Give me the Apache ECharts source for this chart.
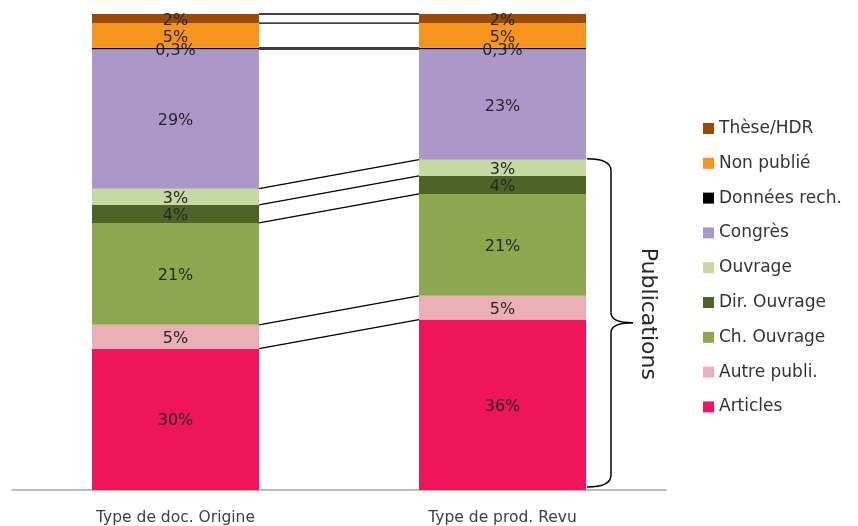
<!DOCTYPE html>
<html>
<head>
<meta charset="utf-8">
<script src="https://cdn.jsdelivr.net/npm/echarts@6/dist/echarts.min.js"></script>
<style>html,body{margin:0;padding:0;background:#fff;}#c{width:858px;height:526px;}</style>
</head>
<body>
<div id="c"></div>
<script>
const categories = ['Type de doc. Origine', 'Type de prod. Revu'];
const seriesNames = ['Articles', 'Autre publi.', 'Ch. Ouvrage', 'Dir. Ouvrage', 'Ouvrage', 'Congrès', 'Données rech.', 'Non publié', 'Thèse/HDR'];
const articles = [29.7, 35.8];
const autrePubli = [5.0, 5.0];
const chOuvrage = [21.4, 21.4];
const dirOuvrage = [3.8, 3.8];
const ouvrage = [3.4, 3.4];
const congres = [29.3, 23.2];
const donnees = [0.3, 0.3];
const nonPublie = [5.2, 5.2];
const these = [1.9, 1.9];
const seriesValues = [articles, autrePubli, chOuvrage, dirOuvrage, ouvrage, congres, donnees, nonPublie, these];
const colors = ['#F0145A', '#EBAFB6', '#8BA84E', '#4F6228', '#C5D9A0', '#AC98C8', '#000000', '#F7941D', '#9C4A0A'];
const braceLabel = 'Publications';

const FONT = 'DejaVu Sans';
const barW = 167;

function fmt(v) {
  if (v < 1) return String(v).replace('.', ',') + '%';
  return Math.round(v) + '%';
}

// cumulative boundaries
const bounds = [];
const cum = [0, 0];
seriesValues.forEach(arr => {
  cum[0] += arr[0]; cum[1] += arr[1];
  bounds.push([0, +cum[0].toFixed(3), +cum[1].toFixed(3)]);
});
const total = Math.max(cum[0], cum[1]);

const chart = echarts.init(document.getElementById('c'));
const series = seriesNames.map((name, i) => ({
  name: name,
  type: 'bar',
  stack: 'total',
  barWidth: barW,
  itemStyle: { color: colors[i] },
  label: {
    show: true,
    position: 'inside',
    offset: [0, 2],
    fontFamily: FONT,
    fontSize: 16,
    color: '#262626',
    formatter: p => fmt(p.value)
  },
  emphasis: { disabled: true },
  data: seriesValues[i]
}));
series.push({
  type: 'custom',
  name: 'lines',
  silent: true,
  encode: { x: 0, y: [1, 2] },
  renderItem: function (params, api) {
    const a = api.coord([0, api.value(1)]);
    const b = api.coord([1, api.value(2)]);
    return {
      type: 'line',
      shape: { x1: a[0] + barW / 2, y1: a[1], x2: b[0] - barW / 2, y2: b[1] },
      style: { stroke: '#000', lineWidth: 1.3 }
    };
  },
  data: bounds,
  z: 5
});

chart.setOption({
  animation: false,
  grid: { left: 12, right: 192, top: 14, bottom: 35 },
  legend: {
    orient: 'vertical',
    left: 698,
    top: 115,
    itemWidth: 11,
    itemHeight: 11,
    itemGap: 17.8,
    icon: 'rect',
    selectedMode: false,
    data: seriesNames.slice().reverse(),
    textStyle: { fontFamily: FONT, fontSize: 17, color: '#333333', lineHeight: 16 }
  },
  xAxis: {
    type: 'category',
    data: categories,
    axisLine: { lineStyle: { color: '#A6A6A6', width: 1.5 } },
    axisTick: { show: false },
    axisLabel: { fontFamily: FONT, fontSize: 15.5, color: '#404040', margin: 20 }
  },
  yAxis: { type: 'value', min: 0, max: total, show: false, splitLine: { show: false } },
  series: series
});

// brace annotation to the right of the second bar
const pTop = chart.convertToPixel({ gridIndex: 0 }, [1, bounds[4][2]]);
const pBot = chart.convertToPixel({ gridIndex: 0 }, [1, 0]);
const x0 = pTop[0] + barW / 2 + 1;
const xv = x0 + 24;
const xt = x0 + 46;
const y0 = pTop[1] - 1;
const y1 = pBot[1] - 3;
const ym = (y0 + y1) / 2;
const bStyle = { fill: null, stroke: '#000', lineWidth: 1.5 };
chart.setOption({
  graphic: [
    { type: 'bezierCurve', shape: { x1: x0, y1: y0, cpx1: xv, cpy1: y0, x2: xv, y2: y0 + 12 }, style: bStyle, silent: true },
    { type: 'line', shape: { x1: xv, y1: y0 + 12, x2: xv, y2: ym - 10 }, style: bStyle, silent: true },
    { type: 'bezierCurve', shape: { x1: xv, y1: ym - 10, cpx1: xv, cpy1: ym, x2: xt, y2: ym }, style: bStyle, silent: true },
    { type: 'bezierCurve', shape: { x1: xt, y1: ym, cpx1: xv, cpy1: ym, x2: xv, y2: ym + 10 }, style: bStyle, silent: true },
    { type: 'line', shape: { x1: xv, y1: ym + 10, x2: xv, y2: y1 - 12 }, style: bStyle, silent: true },
    { type: 'bezierCurve', shape: { x1: xv, y1: y1 - 12, cpx1: xv, cpy1: y1, x2: x0, y2: y1 }, style: bStyle, silent: true },
    {
      type: 'text', x: xt + 15, y: ym - 9, rotation: -Math.PI / 2,
      style: { text: braceLabel, fontFamily: FONT, fontSize: 22, fill: '#262626', textAlign: 'center', textVerticalAlign: 'middle' },
      silent: true
    }
  ]
});
</script>
</body>
</html>
